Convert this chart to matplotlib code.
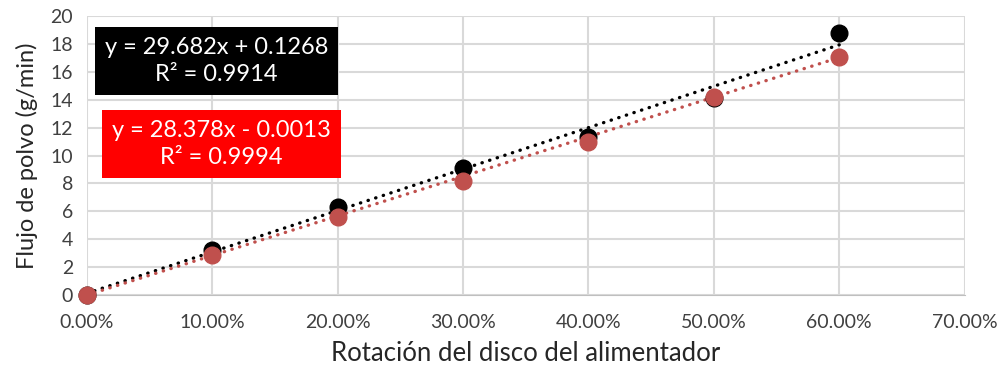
import matplotlib.pyplot as plt
from matplotlib.ticker import FuncFormatter

plt.rcParams['font.family'] = ['Lato', 'DejaVu Sans']

rot = [0.0, 0.1, 0.2, 0.3, 0.4, 0.5, 0.6]
flujo_negro = [0.0, 3.2, 6.3, 9.1, 11.3, 14.1, 18.8]
flujo_rojo = [0.0, 2.9, 5.6, 8.2, 11.0, 14.2, 17.05]

# trend line coefficients (from the chart)
m_negro, b_negro = 29.682, 0.1268
m_rojo, b_rojo = 28.378, -0.0013
rojo = '#C0504D'

fig = plt.figure(figsize=(10.03, 3.73), dpi=100)
ax = fig.add_axes([0.0867, 0.209, 0.875, 0.748])

x_fit = [0.0, 0.6]
ax.plot(x_fit, [m_negro * x + b_negro for x in x_fit], color='black', lw=2.4,
        linestyle=(0, (0.1, 2.3)), dash_capstyle='round', zorder=3)
ax.plot(x_fit, [m_rojo * x + b_rojo for x in x_fit], color=rojo, lw=2.4,
        linestyle=(0, (0.1, 2.3)), dash_capstyle='round', zorder=3)
ax.plot(rot, flujo_negro, 'o', color='black', ms=12, zorder=4, clip_on=False)
ax.plot(rot, flujo_rojo, 'o', color=rojo, ms=12, zorder=5, clip_on=False)

ax.set_xlim(0, 0.7)
ax.set_ylim(0, 20)
ax.set_xticks([i / 10 for i in range(8)])
ax.set_yticks(range(0, 21, 2))
ax.xaxis.set_major_formatter(FuncFormatter(lambda v, p: f'{v*100:.2f}%'))
ax.grid(True, color='#d9d9d9', lw=1.5)
ax.set_axisbelow(True)
for s in ax.spines.values():
    s.set_visible(False)
ax.spines['bottom'].set_visible(True)
ax.spines['bottom'].set_color('#bfbfbf')
ax.tick_params(length=0, labelsize=14, colors='#404040', pad=10)
ax.tick_params(axis='x', pad=14)
ax.set_xlabel('Rotación del disco del alimentador', fontsize=18.5, color='#262626', labelpad=7)
ax.set_ylabel('Flujo de polvo (g/min)', fontsize=17, color='#262626', labelpad=9)

# equation boxes
ax.text(0.1035, 16.75, 'y = 29.682x + 0.1268\nR² = 0.9914', ha='center', va='center',
        color='white', fontsize=17, linespacing=1.35,
        bbox=dict(boxstyle='square,pad=0.42', fc='black', ec='none'))
ax.text(0.1075, 10.85, 'y = 28.378x - 0.0013\nR² = 0.9994', ha='center', va='center',
        color='white', fontsize=17, linespacing=1.35,
        bbox=dict(boxstyle='square,pad=0.42', fc='#ff0000', ec='none'))

fig.savefig('out.png', dpi=100)
